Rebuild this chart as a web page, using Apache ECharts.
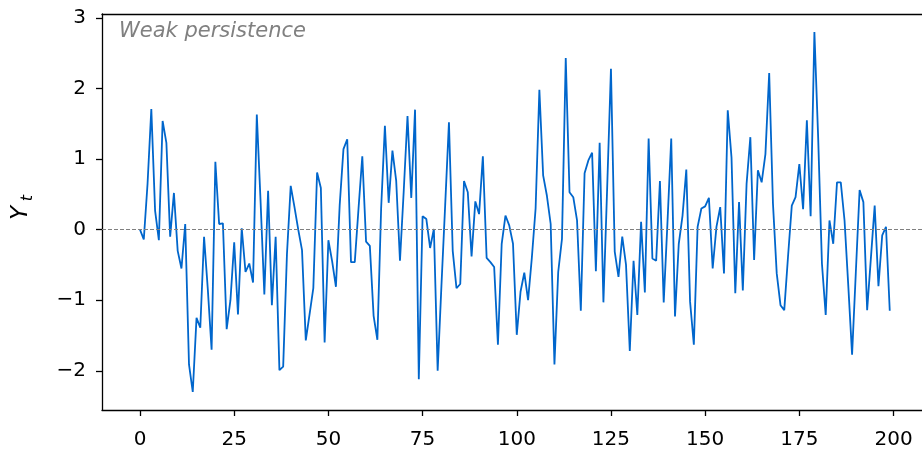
<!DOCTYPE html>
<html><head><meta charset="utf-8">
<script src="https://cdn.jsdelivr.net/npm/echarts@6/dist/echarts.min.js"></script>
<style>html,body{margin:0;padding:0;background:#fff;}#c{width:922px;height:452px;}</style>
</head><body><div id="c"></div>
<script>
// Series values Y_t for t = 0..199
const values = [
  0.00,-0.14,0.65,1.71,0.27,-0.15,1.54,1.23,-0.10,0.52,
  -0.30,-0.55,0.08,-1.91,-2.30,-1.25,-1.39,-0.10,-0.85,-1.70,
  0.96,0.08,0.09,-1.41,-1.00,-0.18,-1.20,0.02,-0.60,-0.48,
  -0.75,1.63,0.40,-0.92,0.55,-1.07,-0.10,-1.99,-1.94,-0.35,
  0.62,0.32,0.00,-0.29,-1.57,-1.20,-0.83,0.81,0.59,-1.60,
  -0.15,-0.45,-0.81,0.35,1.14,1.28,-0.46,-0.46,0.30,1.04,
  -0.17,-0.23,-1.22,-1.56,0.30,1.47,0.38,1.12,0.69,-0.44,
  0.55,1.61,0.45,1.70,-2.12,0.19,0.15,-0.26,0.01,-2.00,
  -0.80,0.35,1.52,-0.30,-0.83,-0.77,0.69,0.53,-0.38,0.40,
  0.22,1.04,-0.40,-0.46,-0.53,-1.63,-0.20,0.20,0.06,-0.20,
  -1.49,-0.88,-0.61,-1.00,-0.40,0.30,1.98,0.77,0.48,0.08,
  -1.91,-0.60,-0.13,2.43,0.53,0.46,0.13,-1.15,0.80,0.98,
  1.09,-0.59,1.23,-1.03,0.60,2.28,-0.31,-0.67,-0.10,-0.50,
  -1.72,-0.44,-1.21,0.11,-0.89,1.29,-0.41,-0.44,0.69,-1.03,
  0.10,1.29,-1.23,-0.20,0.20,0.85,-1.02,-1.63,0.04,0.30,
  0.33,0.45,-0.55,0.04,0.32,-0.62,1.69,1.02,-0.90,0.39,
  -0.86,0.65,1.31,-0.43,0.84,0.67,1.07,2.22,0.37,-0.62,
  -1.07,-1.14,-0.38,0.34,0.46,0.93,0.29,1.55,0.19,2.80,
  1.30,-0.48,-1.21,0.13,-0.20,0.67,0.67,0.13,-0.80,-1.77,
  -0.60,0.56,0.39,-1.14,-0.40,0.34,-0.80,-0.08,0.04,-1.15
];
const xTicks = [0,25,50,75,100,125,150,175,200];
const yTicks = [-2,-1,0,1,2,3];
const annotation = 'Weak persistence';
const yNameMain = 'Y';
const yNameSub = 't';

const chart = echarts.init(document.getElementById('c'), null, {renderer:'canvas'});
const FONT = 'DejaVu Sans';
const XMIN = -10.09, XMAX = 207.56;
chart.setOption({
  animation: false,
  backgroundColor: '#fff',
  grid: {left: 102, top: 14, width: 820, height: 396, show: false},
  xAxis: [{
    type: 'value', min: XMIN, max: XMAX,
    axisLine: {show: true, onZero: false, lineStyle: {color: '#000', width: 1.3}},
    axisTick: {show: true, customValues: xTicks, length: 6, lineStyle: {color: '#000', width: 1.3}},
    axisLabel: {customValues: xTicks, fontSize: 20, color: '#000', fontFamily: FONT, margin: 20},
    splitLine: {show: false}
  }, {
    type: 'value', position: 'top', min: XMIN, max: XMAX,
    axisLine: {show: true, onZero: false, lineStyle: {color: '#000', width: 1.3}},
    axisTick: {show: false}, axisLabel: {show: false}, splitLine: {show: false}
  }],
  yAxis: {
    type: 'value', min: -2.555, max: 3.055,
    axisLine: {show: true, onZero: false, lineStyle: {color: '#000', width: 1.3}},
    axisTick: {show: true, customValues: yTicks, length: 6, lineStyle: {color: '#000', width: 1.3}},
    axisLabel: {customValues: yTicks, fontSize: 20, color: '#000', fontFamily: FONT, margin: 16,
      formatter: v => (v < 0 ? '\u2212' + Math.abs(v) : String(v))},
    splitLine: {show: false}
  },
  series: [{
    type: 'line',
    data: values.map((v, i) => [i, v]),
    showSymbol: false,
    lineStyle: {color: '#0066cc', width: 1.8},
    z: 3,
    markLine: {
      silent: true, symbol: 'none', label: {show: false},
      lineStyle: {type: [4, 2], color: '#808080', width: 1},
      data: [{yAxis: 0}]
    }
  }],
  graphic: [
    {type: 'text', x: 119, y: 21, style: {text: annotation, fontFamily: FONT, fontStyle: 'italic', fontSize: 21, fill: '#808080', textVerticalAlign: 'top'}},
    {type: 'text', x: 33, y: 213, rotation: Math.PI/2, style: {text: yNameMain, fontFamily: FONT, fontStyle: 'italic', fontSize: 23, fill: '#000', textAlign: 'center', textVerticalAlign: 'bottom'}},
    {type: 'text', x: 28, y: 198, rotation: Math.PI/2, style: {text: yNameSub, fontFamily: FONT, fontStyle: 'italic', fontSize: 16, fill: '#000', textAlign: 'center', textVerticalAlign: 'middle'}}
  ]
});
</script>
</body></html>
